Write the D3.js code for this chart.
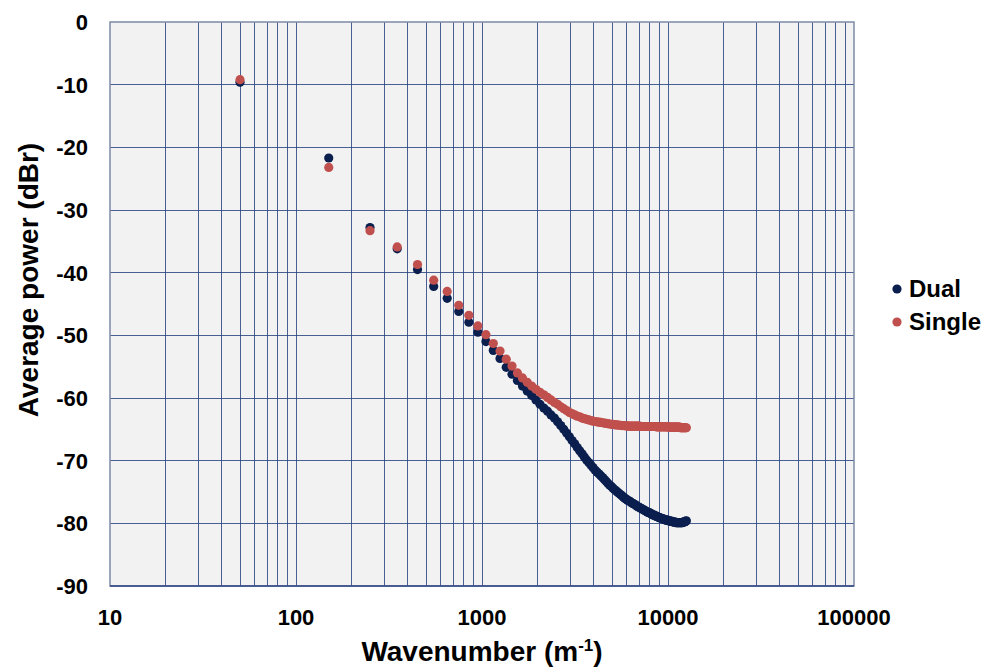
<!DOCTYPE html>
<html>
<head>
<meta charset="utf-8">
<script src="https://cdn.jsdelivr.net/npm/d3@7"></script>
<style>
  body { margin: 0; background: #fff; }
  svg text { font-family: "Liberation Sans", Arial, sans-serif; font-weight: bold; fill: #000; }
</style>
</head>
<body>
<svg id="chart" width="989" height="671"></svg>
<script>
// wavenumber (1/m) of each sample
var wavenumbers = [
  50, 150, 250, 350, 450, 550, 650, 750, 850, 950,
  1050, 1150, 1250, 1350, 1450, 1550, 1650, 1750, 1850, 1950,
  2050, 2150, 2250, 2350, 2450, 2550, 2650, 2750, 2850, 2950,
  3050, 3150, 3250, 3350, 3450, 3550, 3650, 3750, 3850, 3950,
  4050, 4150, 4250, 4350, 4450, 4550, 4650, 4750, 4850, 4950,
  5050, 5150, 5250, 5350, 5450, 5550, 5650, 5750, 5850, 5950,
  6050, 6150, 6250, 6350, 6450, 6550, 6650, 6750, 6850, 6950,
  7050, 7150, 7250, 7350, 7450, 7550, 7650, 7750, 7850, 7950,
  8050, 8150, 8250, 8350, 8450, 8550, 8650, 8750, 8850, 8950,
  9050, 9150, 9250, 9350, 9450, 9550, 9650, 9750, 9850, 9950,
  10050, 10150, 10250, 10350, 10450, 10550, 10650, 10750, 10850, 10950,
  11050, 11150, 11250, 11350, 11450, 11550, 11650, 11750, 11850, 11950,
  12050, 12150, 12250, 12350, 12450, 12550
];

// average power (dBr)
var dual = [
  -9.6, -21.7, -32.8, -36.2, -39.5, -42.2, -44.1, -46.2, -47.9, -49.5,
  -51.0, -52.4, -53.7, -55.1, -56.2, -57.2, -58.1, -58.9, -59.6, -60.3,
  -61.0, -61.6, -62.1, -62.7, -63.2, -63.8, -64.4, -65.0, -65.6, -66.2,
  -66.8, -67.3, -67.9, -68.4, -68.9, -69.4, -69.9, -70.3, -70.7, -71.1,
  -71.5, -71.8, -72.1, -72.4, -72.7, -73.0, -73.3, -73.6, -73.9, -74.1,
  -74.35, -74.6, -74.8, -75.0, -75.2, -75.4, -75.6, -75.8, -76.0, -76.1,
  -76.3, -76.4, -76.5, -76.7, -76.8, -76.9, -77.0, -77.2, -77.3, -77.4,
  -77.5, -77.6, -77.7, -77.8, -77.9, -78.0, -78.1, -78.2, -78.3, -78.3,
  -78.4, -78.5, -78.6, -78.7, -78.7, -78.8, -78.9, -78.9, -79.0, -79.1,
  -79.1, -79.2, -79.2, -79.3, -79.3, -79.4, -79.4, -79.5, -79.5, -79.5,
  -79.6, -79.6, -79.6, -79.7, -79.7, -79.7, -79.8, -79.8, -79.8, -79.8,
  -79.9, -79.9, -79.9, -79.9, -79.9, -79.9, -79.9, -79.9, -79.9, -79.9,
  -79.8, -79.8, -79.8, -79.7, -79.7, -79.6
];

var single = [
  -9.2, -23.2, -33.3, -35.9, -38.7, -41.2, -43.0, -45.2, -46.8, -48.5,
  -49.9, -51.3, -52.5, -53.8, -54.9, -56.0, -56.8, -57.5, -58.1, -58.6,
  -59.1, -59.5, -59.9, -60.3, -60.7, -61.0, -61.4, -61.7, -62.0, -62.3,
  -62.5, -62.7, -62.9, -63.0, -63.2, -63.3, -63.4, -63.5, -63.6, -63.7,
  -63.75, -63.8, -63.85, -63.9, -63.95, -64.0, -64.05, -64.1, -64.15, -64.2,
  -64.2, -64.25, -64.3, -64.3, -64.35, -64.35, -64.4, -64.4, -64.4, -64.45,
  -64.45, -64.5, -64.5, -64.5, -64.5, -64.5, -64.5, -64.5, -64.5, -64.5,
  -64.5, -64.55, -64.55, -64.55, -64.55, -64.55, -64.55, -64.55, -64.55, -64.55,
  -64.55, -64.55, -64.55, -64.55, -64.55, -64.55, -64.6, -64.6, -64.6, -64.6,
  -64.6, -64.6, -64.6, -64.6, -64.6, -64.6, -64.6, -64.6, -64.6, -64.6,
  -64.6, -64.65, -64.65, -64.65, -64.65, -64.65, -64.65, -64.65, -64.65, -64.65,
  -64.65, -64.65, -64.65, -64.65, -64.65, -64.65, -64.75, -64.75, -64.75, -64.75,
  -64.75, -64.75, -64.75, -64.75, -64.75, -64.75
];

var xTicks = [10, 100, 1000, 10000, 100000];
var yTicks = [0, -10, -20, -30, -40, -50, -60, -70, -80, -90];

var series = [
  { name: "Dual", values: dual, color: "#0b1f4f" },
  { name: "Single", values: single, color: "#c0504d" }
];

var cfg = {
  left: 110, top: 22, right: 854, bottom: 586,
  gridColor: "#2c4584", frameColor: "#7d8aa6", plotBg: "#f2f2f2",
  r: 4.6
};

var svg = d3.select("#chart");

var x = d3.scaleLog().domain([10, 100000]).range([cfg.left, cfg.right]);
var y = d3.scaleLinear().domain([-90, 0]).range([cfg.bottom, cfg.top]);

svg.append("rect")
  .attr("x", cfg.left).attr("y", cfg.top)
  .attr("width", cfg.right - cfg.left).attr("height", cfg.bottom - cfg.top)
  .attr("fill", cfg.plotBg);

// every 1-2-...-9 line of each decade
var xGrid = x.ticks().filter(function(d){ return d > 10 && d < 100000; });

var grid = svg.append("g").attr("class", "grid")
  .attr("shape-rendering", "crispEdges");

grid.selectAll(".vgrid").data(xGrid).enter()
  .append("line")
    .attr("class", "vgrid")
    .attr("x1", function(d){ return x(d); })
    .attr("x2", function(d){ return x(d); })
    .attr("y1", cfg.top).attr("y2", cfg.bottom)
    .attr("stroke", cfg.gridColor)
    .attr("stroke-opacity", 0.85)
    .attr("stroke-width", 1);

grid.selectAll(".hgrid").data(yTicks.filter(function(d){ return d > -90 && d < 0; })).enter()
  .append("line")
    .attr("class", "hgrid")
    .attr("x1", cfg.left).attr("x2", cfg.right)
    .attr("y1", function(d){ return y(d); })
    .attr("y2", function(d){ return y(d); })
    .attr("stroke", cfg.gridColor)
    .attr("stroke-opacity", 0.85)
    .attr("stroke-width", 1);

svg.append("rect")
  .attr("x", cfg.left).attr("y", cfg.top)
  .attr("width", cfg.right - cfg.left).attr("height", cfg.bottom - cfg.top)
  .attr("fill", "none")
  .attr("stroke", cfg.frameColor)
  .attr("stroke-width", 1.5);

svg.append("line")
  .attr("x1", cfg.left).attr("x2", cfg.right)
  .attr("y1", cfg.bottom).attr("y2", cfg.bottom)
  .attr("stroke", "#2c4584").attr("stroke-width", 1.5);

// points, Single drawn over Dual
series.forEach(function(s){
  svg.append("g").attr("class", "pts-" + s.name)
    .selectAll("circle")
    .data(wavenumbers.map(function(k, i){ return { k: k, v: s.values[i] }; }))
    .enter()
    .append("circle")
      .attr("cx", function(d){ return x(d.k); })
      .attr("cy", function(d){ return y(d.v); })
      .attr("r", cfg.r)
      .attr("fill", s.color);
});

// tick labels
svg.append("g").selectAll("text").data(yTicks).enter()
  .append("text")
    .attr("x", 88)
    .attr("y", function(d){ return y(d) + 8; })
    .attr("text-anchor", "end")
    .attr("font-size", "22px")
    .text(function(d){ return d; });

svg.append("g").selectAll("text").data(xTicks).enter()
  .append("text")
    .attr("x", function(d){ return x(d); })
    .attr("y", 625)
    .attr("text-anchor", "middle")
    .attr("font-size", "22px")
    .text(function(d){ return d; });

// axis titles
svg.append("text")
  .attr("transform", "translate(38,280) rotate(-90)")
  .attr("text-anchor", "middle")
  .attr("font-size", "28px")
  .text("Average power (dBr)");

var xt = svg.append("text")
  .attr("x", 482)
  .attr("y", 661)
  .attr("text-anchor", "middle")
  .attr("font-size", "28px");
xt.append("tspan").text("Wavenumber (m");
xt.append("tspan").attr("font-size", "17px").attr("dy", -10).text("-1");
xt.append("tspan").attr("dy", 10).text(")");

// legend
var legend = svg.append("g").attr("class", "legend");
legend.selectAll("circle").data(series).enter()
  .append("circle")
    .attr("cx", 897)
    .attr("cy", function(d, i){ return 289 + i * 33; })
    .attr("r", cfg.r)
    .attr("fill", function(d){ return d.color; });
legend.selectAll("text").data(series).enter()
  .append("text")
    .attr("x", 909)
    .attr("y", function(d, i){ return 297 + i * 33; })
    .attr("font-size", "24px")
    .text(function(d){ return d.name; });
</script>
</body>
</html>
